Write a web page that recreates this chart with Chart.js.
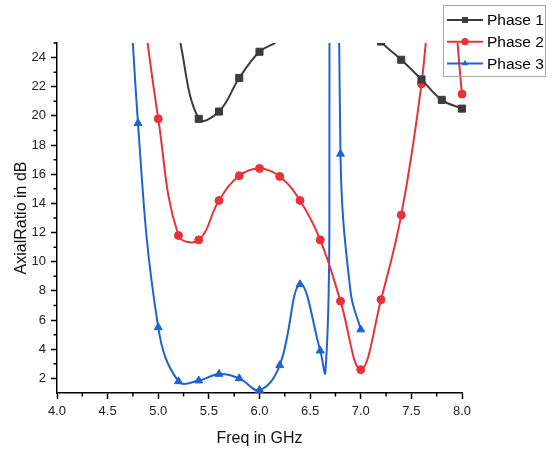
<!DOCTYPE html>
<html><head><meta charset="utf-8">
<script src="https://cdn.jsdelivr.net/npm/chart.js@4/dist/chart.umd.min.js"></script>
<style>html,body{margin:0;padding:0;background:#fff;}#wrap{position:relative;width:554px;height:453px;}</style>
</head><body><div id="wrap"><canvas id="c" width="554" height="453"></canvas></div>
<script>
const seriesNames = ['Phase 1', 'Phase 2', 'Phase 3'];

const phase1Freq = [5.2, 5.4, 5.6, 5.8, 6.0, 6.2, 6.4, 6.6, 6.8, 7.0, 7.2, 7.4, 7.6, 7.8, 8.0];
const phase1AR   = [25.6, 19.8, 20.3, 22.6, 24.4, 25.3, 28, 29, 29, 27, 25.1, 23.85, 22.5, 21.1, 20.5];

const phase2Freq = [4.8, 5.0, 5.2, 5.4, 5.6, 5.8, 6.0, 6.2, 6.4, 6.6, 6.8, 7.0, 7.2, 7.4, 7.6, 7.8, 8.0];
const phase2AR   = [30, 19.8, 11.8, 11.5, 14.2, 15.9, 16.4, 15.85, 14.2, 11.5, 7.3, 2.6, 7.4, 13.2, 22.2, 35, 21.5];

const phase3Freq = [4.6, 4.8, 5.0, 5.2, 5.4, 5.6, 5.8, 6.0, 6.2, 6.4, 6.6, 6.65, 6.69, 6.7, 6.75, 6.8, 6.9, 7.0];
const phase3AR   = [45, 19.5, 5.5, 1.8, 1.85, 2.3, 2.0, 1.2, 2.9, 8.45, 3.9, 2.4, 12, 80, 80, 17.4, 7.9, 5.35];

const xTickValues = [4.0, 4.5, 5.0, 5.5, 6.0, 6.5, 7.0, 7.5, 8.0];
const xTickLabels = ['4.0', '4.5', '5.0', '5.5', '6.0', '6.5', '7.0', '7.5', '8.0'];
const xMinorValues = [4.25, 4.75, 5.25, 5.75, 6.25, 6.75, 7.25, 7.75];
const yTickValues = [2, 4, 6, 8, 10, 12, 14, 16, 18, 20, 22, 24];
const yTickLabels = ['2', '4', '6', '8', '10', '12', '14', '16', '18', '20', '22', '24'];
const yMinorValues = [3, 5, 7, 9, 11, 13, 15, 17, 19, 21, 23, 25];

const FONT = "'Liberation Sans', Arial, sans-serif";
const colors = ['#3c3c3c', '#e8323a', '#1f62d0'];
const styles = ['rect', 'circle', 'triangle'];
const radii = [5, 4, 4.6];

function toPts(xs, ys) { return xs.map((x, i) => ({ x: x, y: ys[i] })); }
function onGrid(x) { return Math.abs(x * 5 - Math.round(x * 5)) < 1e-9; }

const series = [[phase1Freq, phase1AR], [phase2Freq, phase2AR], [phase3Freq, phase3AR]];
const datasets = series.map((s, i) => ({
  label: seriesNames[i],
  data: toPts(s[0], s[1]),
  borderColor: colors[i],
  backgroundColor: colors[i],
  pointBackgroundColor: colors[i],
  pointBorderColor: colors[i],
  pointBorderWidth: 1,
  pointStyle: styles[i],
  pointRadius: ctx => (ctx.raw && onGrid(ctx.raw.x)) ? radii[i] : 0,
  pointHoverRadius: 0,
  borderWidth: 2,
  tension: 0.4,
  fill: false,
  clip: { left: 0, top: 0, right: 6, bottom: 6 }
}));

const minorTicks = {
  id: 'minorTicks',
  afterDraw(chart) {
    const { ctx, chartArea, scales } = chart;
    ctx.save();
    ctx.strokeStyle = '#000';
    ctx.lineWidth = 1.5;
    ctx.beginPath();
    xMinorValues.forEach(v => {
      const p = scales.x.getPixelForValue(v);
      ctx.moveTo(p, chartArea.bottom);
      ctx.lineTo(p, chartArea.bottom + 3.5);
    });
    yMinorValues.forEach(v => {
      const p = scales.y.getPixelForValue(v);
      ctx.moveTo(chartArea.left, p);
      ctx.lineTo(chartArea.left - 3.5, p);
    });
    ctx.stroke();
    ctx.restore();
  }
};

function drawMarker(ctx, style, x, y, r) {
  ctx.beginPath();
  if (style === 'rect') {
    const s = Math.SQRT1_2 * r;
    ctx.rect(x - s, y - s, 2 * s, 2 * s);
  } else if (style === 'circle') {
    ctx.arc(x, y, r, 0, Math.PI * 2);
  } else {
    ctx.moveTo(x, y - r);
    ctx.lineTo(x + r * Math.sin(Math.PI / 3), y + r / 2);
    ctx.lineTo(x - r * Math.sin(Math.PI / 3), y + r / 2);
    ctx.closePath();
  }
  ctx.fill();
}

const boxLegend = {
  id: 'boxLegend',
  afterDraw(chart) {
    const { ctx } = chart;
    ctx.save();
    ctx.strokeStyle = '#a8a8a8';
    ctx.lineWidth = 1;
    ctx.strokeRect(443.5, 5.5, 102, 71);
    chart.data.datasets.forEach((ds, i) => {
      const y = 20 + i * 21.7;
      ctx.strokeStyle = colors[i];
      ctx.fillStyle = colors[i];
      ctx.lineWidth = 2;
      ctx.beginPath();
      ctx.moveTo(447, y);
      ctx.lineTo(483, y);
      ctx.stroke();
      drawMarker(ctx, styles[i], 465, y, i === 0 ? 4.2 : 3.6);
      ctx.fillStyle = '#000';
      ctx.font = '15.5px ' + FONT;
      ctx.textAlign = 'left';
      ctx.textBaseline = 'middle';
      ctx.fillText(ds.label, 487, y + 1);
    });
    ctx.restore();
  }
};

new Chart(document.getElementById('c'), {
  type: 'line',
  data: { datasets: datasets },
  options: {
    responsive: false,
    animation: false,
    devicePixelRatio: 1,
    layout: { padding: { left: 0, top: 43, right: 92, bottom: 0 } },
    plugins: { legend: { display: false }, tooltip: { enabled: false } },
    scales: {
      x: {
        type: 'linear', min: 4, max: 8,
        afterFit: s => { s.height = 60; },
        afterBuildTicks: s => { s.ticks = xTickValues.map(v => ({ value: v })); },
        ticks: { callback: (v, i) => xTickLabels[i], font: { size: 13, family: FONT }, color: '#222', padding: 5, maxRotation: 0, autoSkip: false },
        grid: { drawOnChartArea: false, tickLength: 6, tickColor: '#000', tickWidth: 1.5 },
        border: { color: '#000', width: 1.5 },
        title: { display: true, text: 'Freq in GHz', font: { size: 16, family: FONT }, color: '#111', padding: { top: 0, bottom: 5 } }
      },
      y: {
        type: 'linear', min: 1, max: 25,
        afterFit: s => { s.width = 57; },
        afterBuildTicks: s => { s.ticks = yTickValues.map(v => ({ value: v })); },
        ticks: { callback: (v, i) => yTickLabels[i], font: { size: 13, family: FONT }, color: '#222', padding: 5, autoSkip: false },
        grid: { drawOnChartArea: false, tickLength: 6, tickColor: '#000', tickWidth: 1.5 },
        border: { color: '#000', width: 1.5 },
        title: { display: true, text: 'AxialRatio in dB', font: { size: 16, family: FONT }, color: '#111', padding: { top: 12, bottom: 0 } }
      }
    }
  },
  plugins: [minorTicks, boxLegend]
});
</script>
</body></html>
